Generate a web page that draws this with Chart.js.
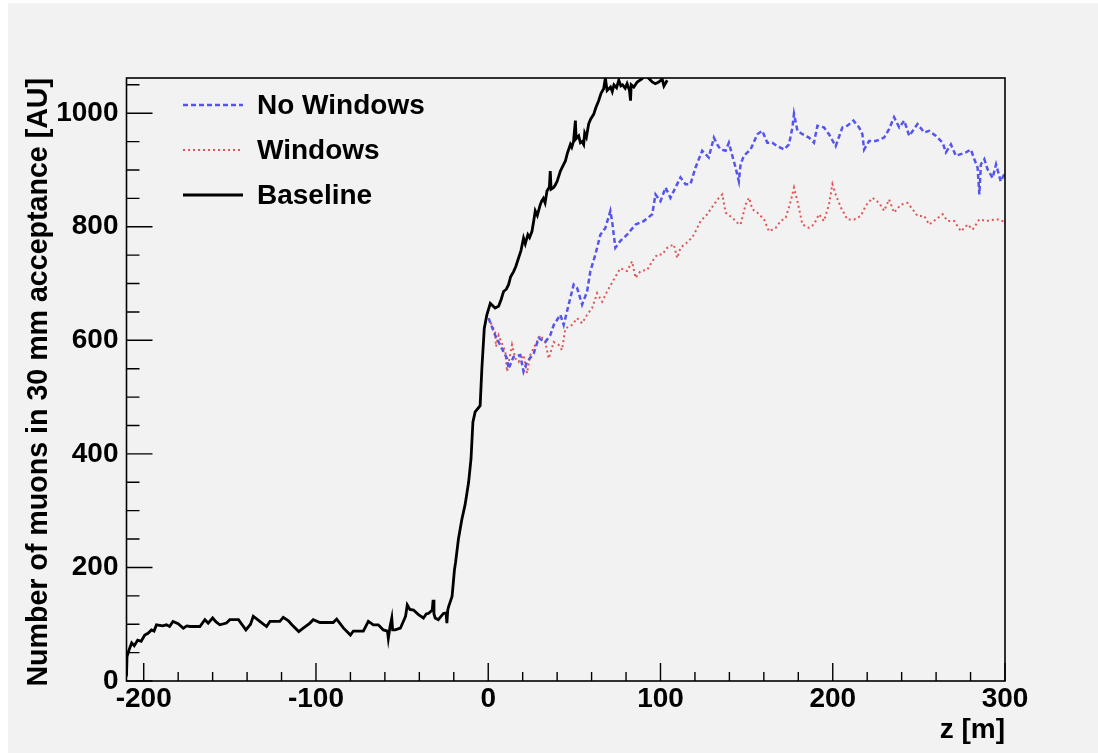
<!DOCTYPE html>
<html>
<head>
<meta charset="utf-8">
<script src="https://cdn.jsdelivr.net/npm/chart.js@4.4.1/dist/chart.umd.min.js"></script>
<style>
  html, body { margin: 0; padding: 0; background: #ffffff; }
  #wrap { width: 1098px; height: 753px; }
</style>
</head>
<body>
<div id="wrap"><canvas id="c" width="1098" height="753"></canvas></div>
<script>
// ── Datos ─────────────────────────────────────────────────────────────────
const baseZ = [-210, -209.7, -208.5, -207, -205.5, -203.5, -201.5, -199.4, -197.5, -195.5, -194, -192.6, -189, -186.8,
    -185, -183, -180, -177, -175, -173, -170, -167.4, -164.5, -162.6, -160, -158, -155.8, -152, -150, -145, -140.7,
    -138, -136.4, -132.6, -128.7, -126.7, -121, -119, -116, -114, -110, -107.4, -103.5, -101.6, -97.7, -90, -88, -84,
    -80, -78.3, -72.5, -69.6, -66.7, -63.8, -60.9, -58.5, -58, -57, -56, -55.5, -54, -51, -48, -47, -45.5, -43.4,
    -40.5, -37.6, -36, -34.7, -32.5, -32, -31.5, -30.8, -29, -26, -24.5, -24, -23.5, -23, -21, -19.6, -19, -17.3,
    -15.3, -13.4, -11.4, -10, -8.9, -7.6, -4.7, -3.7, -2.3, -0.8, 1.2, 4, 6, 7.5, 8.9, 10.5, 11.8, 13, 14.7, 16, 17.6,
    19, 20.5, 21.5, 23, 24, 25.4, 26.5, 27.3, 28.5, 30.2, 31, 32, 33, 34.1, 35.5, 36, 36.5, 38, 39, 40, 41.9, 43,
    44.8, 46, 47.7, 48.5, 49.5, 50.6, 51, 52.5, 53.5, 54.5, 55.4, 56, 57, 58.3, 59.5, 61.2, 62.5, 64.1, 65.5, 67, 68,
    69, 71, 72, 73, 74.5, 75.8, 77, 78, 79.5, 80.6, 82, 82.6, 83, 84.5, 86.5, 89, 91.3, 93, 95.2, 97, 99, 101, 102,
    103.9];
const baseN = [8, 43, 55, 67, 62, 72, 70, 81, 84, 90, 88, 99, 97, 99,
    96, 105, 101, 93, 97, 96, 96, 96, 108, 102, 111, 104, 99, 102, 108, 108, 90,
    100, 114, 105, 96, 105, 105, 112, 106, 99, 87, 93, 102, 108, 103, 103, 109, 93,
    81, 88, 88, 105, 99, 99, 90, 88, 75, 96, 111, 90, 90, 93, 114, 134, 126, 125,
    117, 111, 118, 119, 125, 143, 118, 111, 108, 119, 120, 102, 125, 131, 149, 196, 208, 250,
    285, 311, 350, 391, 456, 474, 485, 550, 621, 645, 665, 657, 660, 672, 686, 690, 698, 712, 721, 730, 745,
    758, 780, 770, 786, 781, 792, 812, 828, 820, 839, 845, 850, 842, 863, 870, 898, 866, 869, 874, 880, 898, 905,
    916, 930, 945, 940, 950, 987, 955, 960, 948, 950, 945, 965, 958, 981, 990, 998, 1010, 1022, 1035, 1043, 1062,
    1040, 1046, 1038, 1050, 1045, 1058, 1048, 1050, 1044, 1052, 1040, 1022, 1050, 1046, 1055, 1060, 1067, 1062, 1055, 1052, 1055, 1060, 1048,
    1058];

const noWinZ = [0.2, 4, 6, 10.9, 11.8, 14.7, 18.6, 20.5, 22.5, 26.4, 29.3, 33.1, 36, 38, 41.9, 43.8, 46.7, 49.6, 51.6,
    54.5, 57.4, 59.3, 62.2, 65.1, 68, 70.9, 71.9, 73.8, 76.7, 80.6, 85.5, 90.3, 95.2, 97.1, 100, 102.9, 105.8, 108.7,
    111.6, 114.5, 117.4, 120.3, 124.2, 128, 131, 132.9, 134.9, 137.8, 139.7, 141.7, 143.6, 145.5, 146.5, 148.4, 152.3,
    156.2, 159.1, 162, 164.9, 167.8, 171.7, 174.6, 176.6, 177.5, 179.5, 182.4, 186.2, 189.1, 191.1, 194.9, 197.8,
    201.7, 205.6, 208.5, 212, 215.3, 217.2, 218.2, 221.1, 225, 229.8, 232.7, 235.6, 238.6, 241.5, 244.4, 249.2,
    253.1, 256, 259.9, 263.8, 265.7, 268.6, 271.5, 274.4, 277.3, 280.2, 282.2, 284.1, 285.1, 286, 288, 289.9, 292.8,
    294.8, 297.5, 300];
const noWinN = [639, 609, 597, 568, 550, 571, 574, 545, 562, 577, 604, 597, 609, 627, 645, 627, 663, 698, 692,
    663, 686, 722, 751, 786, 798, 828, 810, 763, 775, 786, 804, 810, 822, 857, 845, 869, 851, 869,
    887, 875, 875, 904, 934, 922, 957, 945, 936, 934, 948, 925, 904, 880, 910, 925, 936,
    963, 969, 948, 948, 942, 936, 945, 975, 999, 969, 963, 957, 948, 978, 975, 963,
    942, 975, 978, 987, 975, 963, 936, 951, 951, 957, 972, 993, 975, 987, 960, 981,
    966, 969, 960, 948, 931, 945, 925, 928, 931, 936, 919, 904, 857, 910, 919, 901, 886,
    910, 880, 895];

const winZ = [0.2, 4, 4.5, 6, 9.9, 10.9, 13.8, 15.7, 17.6, 20.5, 22.5, 24.4, 27.3, 30.2, 33.1, 35.1, 38, 40.9, 42.8,
    44.8, 48.7, 51.6, 54.5, 57.4, 60.3, 63.2, 66.1, 69, 72.9, 76.7, 80.6, 83.5, 85.5, 88.4, 92.3, 95.2, 98.1, 101,
    103.9, 107.7, 109.7, 111.6, 116.5, 119.4, 123.3, 127.1, 131, 133.9, 135.9, 137.8, 141.7, 144.6, 146.5, 149.4,
    151.4, 153.3, 156.2, 160.1, 163, 166.9, 169.8, 172.7, 175.6, 177.5, 179.5, 182.4, 186.2, 189.1, 192, 194.9,
    197.8, 199.8, 201.7, 204.7, 208.5, 212.4, 216.3, 219.2, 223.1, 226.9, 229.8, 232.7, 235.6, 239.5, 243.4, 246.3,
    249.2, 253.1, 256, 259.9, 263.8, 266.7, 270.5, 274.4, 278.3, 281.2, 285.1, 289, 294.8, 296.5, 300];
const winN = [639, 615, 589, 609, 580, 545, 592, 568, 562, 574, 542, 574, 592, 609, 597, 568, 597, 592, 583,
    621, 627, 639, 630, 645, 657, 683, 668, 686, 707, 727, 722, 739, 710, 722, 724, 739, 751, 751,
    763, 769, 745, 763, 775, 786, 810, 822, 839, 851, 857, 825, 816, 807, 804, 839,
    851, 831, 825, 813, 792, 798, 810, 816, 845, 869, 845, 804, 798, 804, 822, 810,
    839, 875, 857, 834, 813, 813, 819, 837, 851, 842, 828, 848, 825, 839, 842, 831,
    819, 819, 804, 813, 822, 810, 810, 792, 804, 795, 813, 810, 813, 813, 808];

const xTicks = [-200, -100, 0, 100, 200, 300];
const yTicks = [0, 200, 400, 600, 800, 1000];
const xMinorStep = 20;
const yMinorStep = 50;

const FONT = '"Liberation Sans", Arial, Helvetica, sans-serif';

const toXY = (zs, ns) => zs.map((z, i) => ({ x: z, y: ns[i] }));

// ── Marco estilo ROOT: fondo, caja, ticks hacia dentro y leyenda ─────────
const rootFrame = {
    id: 'rootFrame',
    beforeDraw(chart) {
        const { ctx, width, height } = chart;
        ctx.save();
        ctx.fillStyle = '#ffffff';
        ctx.fillRect(0, 0, width, height);
        ctx.fillStyle = '#f2f2f2';
        ctx.fillRect(8, 3, width - 8, height - 3);
        ctx.restore();
    },
    afterDraw(chart) {
        const { ctx, chartArea: a, scales: { x, y } } = chart;
        ctx.save();
        ctx.strokeStyle = '#000';
        ctx.lineWidth = 1.6;
        ctx.strokeRect(a.left, a.top, a.right - a.left, a.bottom - a.top);

        ctx.lineWidth = 1.4;
        ctx.beginPath();
        for (let v = x.min + ((xMinorStep - (x.min % xMinorStep)) % xMinorStep); v <= x.max + 1e-6; v += xMinorStep) {
            const px = x.getPixelForValue(v);
            const len = Math.abs(v % 100) < 1e-6 ? 18 : 9;
            ctx.moveTo(px, a.bottom);
            ctx.lineTo(px, a.bottom - len);
        }
        for (let v = 0; v <= y.max; v += yMinorStep) {
            const py = y.getPixelForValue(v);
            const len = v % 200 === 0 ? 26 : 13;
            ctx.moveTo(a.left, py);
            ctx.lineTo(a.left + len, py);
        }
        ctx.stroke();

        // Leyenda
        const rows = [105, 150, 195];
        chart.data.datasets.forEach((ds, i) => {
            const yy = rows[i];
            ctx.strokeStyle = ds.borderColor;
            ctx.lineWidth = ds.borderWidth;
            ctx.setLineDash(ds.borderDash || []);
            ctx.beginPath();
            ctx.moveTo(183, yy);
            ctx.lineTo(243, yy);
            ctx.stroke();
            ctx.setLineDash([]);
            ctx.fillStyle = '#000';
            ctx.font = 'bold 28px ' + FONT;
            ctx.textBaseline = 'middle';
            ctx.textAlign = 'left';
            ctx.fillText(ds.label, 257, yy + 1);
        });
        ctx.restore();
    },
};

Chart.defaults.font.family = FONT;
Chart.defaults.font.size = 28;
Chart.defaults.font.weight = 'bold';
Chart.defaults.color = '#000';

new Chart(document.getElementById('c'), {
    type: 'line',
    data: {
        datasets: [
            {
                label: 'No Windows', data: toXY(noWinZ, noWinN),
                borderColor: '#5555ee', borderWidth: 2.5, borderDash: [5, 3],
                pointRadius: 0, tension: 0, fill: false,
            },
            {
                label: 'Windows', data: toXY(winZ, winN),
                borderColor: '#e05555', borderWidth: 2, borderDash: [2, 3],
                pointRadius: 0, tension: 0, fill: false,
            },
            {
                label: 'Baseline', data: toXY(baseZ, baseN),
                borderColor: '#000000', borderWidth: 2.8,
                pointRadius: 0, tension: 0, fill: false,
            },
        ],
    },
    options: {
        responsive: false, animation: false,
        layout: { padding: { left: 0, top: 78, right: 93, bottom: 0 } },
        plugins: { legend: { display: false }, tooltip: { enabled: false } },
        scales: {
            x: {
                type: 'linear', min: -210, max: 300,
                grid: { display: false, drawTicks: false },
                border: { display: false },
                afterBuildTicks: s => { s.ticks = xTicks.map(v => ({ value: v })); },
                afterFit: s => { s.height = 72; },
                ticks: { padding: 1, maxRotation: 0, autoSkip: false, callback: v => String(v) },
                title: {
                    display: true, text: 'z [m]', align: 'end',
                    font: { size: 28, weight: 'bold' }, padding: { top: 0, bottom: 6 },
                },
            },
            y: {
                type: 'linear', min: 0, max: 1062,
                grid: { display: false, drawTicks: false },
                border: { display: false },
                afterBuildTicks: s => { s.ticks = yTicks.map(v => ({ value: v })); },
                afterFit: s => { s.width = 126.5; },
                ticks: { padding: 8, autoSkip: false, callback: v => String(v) },
                title: {
                    display: true, text: 'Number of muons in 30 mm acceptance [AU]', align: 'end',
                    font: { size: 28.6, weight: 'bold' }, padding: { top: 22, bottom: 0 },
                },
            },
        },
    },
    plugins: [rootFrame],
});
</script>
</body>
</html>
